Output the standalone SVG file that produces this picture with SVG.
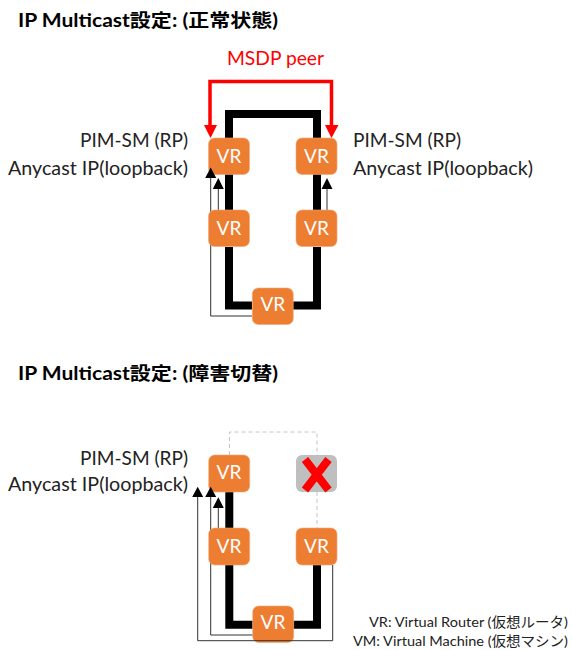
<svg xmlns="http://www.w3.org/2000/svg" width="572" height="650" viewBox="0 0 572 650">
<style>
text{font-family:"Lato","Noto Sans CJK JP",sans-serif;fill:#1a1a1a}
.h{font-size:18px;font-weight:700;fill:#000}
.l{font-size:19px;fill:#222}
.s{font-size:14px;fill:#222}
.vr{fill:#ed7d31;stroke:#f4a878;stroke-width:.6}
.vt{font-size:19px;fill:#fff;text-anchor:middle}
.ring{fill:none;stroke:#000;stroke-width:8}
.thin{fill:none;stroke:#333;stroke-width:1}
.red{fill:none;stroke:#f00;stroke-width:3.5}
.dash{fill:none;stroke:#c4c4c4;stroke-width:1;stroke-dasharray:4 3}
</style>
<text class="h" x="18" y="27" textLength="260" lengthAdjust="spacingAndGlyphs">IP Multicast設定: (正常状態)</text>
<text class="h" x="18" y="380" textLength="260" lengthAdjust="spacingAndGlyphs">IP Multicast設定: (障害切替)</text>
<text x="227" y="65" font-size="19" style="fill:#f00" textLength="97" lengthAdjust="spacingAndGlyphs">MSDP peer</text>
<g id="labels">
<text class="l" x="80" y="147" textLength="108" lengthAdjust="spacingAndGlyphs">PIM-SM (RP)</text>
<text class="l" x="8" y="175" textLength="180" lengthAdjust="spacingAndGlyphs">Anycast IP(loopback)</text>
<text class="l" x="353" y="147" textLength="108" lengthAdjust="spacingAndGlyphs">PIM-SM (RP)</text>
<text class="l" x="353" y="175" textLength="180" lengthAdjust="spacingAndGlyphs">Anycast IP(loopback)</text>
<text class="l" x="80" y="465" textLength="108" lengthAdjust="spacingAndGlyphs">PIM-SM (RP)</text>
<text class="l" x="8" y="491" textLength="180" lengthAdjust="spacingAndGlyphs">Anycast IP(loopback)</text>
<text class="s" x="369" y="627" textLength="199" lengthAdjust="spacingAndGlyphs">VR: Virtual Router (仮想ルータ)</text>
<text class="s" x="353" y="646" textLength="215" lengthAdjust="spacingAndGlyphs">VM: Virtual Machine (仮想マシン)</text>
</g>
<g id="connectors">
<path class="ring" d="M229 138V114H317V138M229 174V210M317 174V210M229 247V305.500H252M293 305.500H317V247"/>
<path class="ring" d="M229.300 492V528M229.300 565V624.700H252.700M293.300 624.700H317V565"/>
<path class="red" d="M210 126V81.500H331.500V126"/>
<path d="M204 125H217L210.500 138ZM325 125H338.500L331.500 138Z" fill="#f00"/>
<path class="dash" d="M229.500 455V432H317V455M317 492V528"/>
<path class="thin" d="M218.300 210V185M210.700 175V316H252M327 210V185"/>
<path class="thin" d="M218.300 528V505M210.700 495V635H252.700"/>
</g>
<g id="vr1"><rect class="vr" x="208.500" y="138" width="41" height="36.500" rx="6"/><text class="vt" x="229" y="163">VR</text></g>
<g id="vr2"><rect class="vr" x="296" y="138" width="41" height="36.500" rx="6"/><text class="vt" x="316.500" y="163">VR</text></g>
<g id="vr3"><rect class="vr" x="208.500" y="210" width="41" height="36.500" rx="6"/><text class="vt" x="229" y="235">VR</text></g>
<g id="vr4"><rect class="vr" x="296" y="210" width="41" height="36.500" rx="6"/><text class="vt" x="316.500" y="235">VR</text></g>
<g id="vr5"><rect class="vr" x="252.300" y="288" width="41" height="36.500" rx="6"/><text class="vt" x="272.800" y="311">VR</text></g>
<g id="vr6"><rect class="vr" x="208.700" y="455" width="41" height="37" rx="6"/><text class="vt" x="229" y="479">VR</text></g>
<g id="failed"><rect x="296" y="455" width="41" height="37" rx="6" fill="#bfbfbf"/><path d="M305 459.500L328.500 490M328.500 459.500L305 490" fill="none" stroke="#f00" stroke-width="8"/></g>
<g id="vr7"><rect class="vr" x="208.700" y="528" width="41" height="37" rx="6"/><text class="vt" x="229" y="553">VR</text></g>
<g id="vr8"><rect class="vr" x="296" y="528" width="41" height="37" rx="6"/><text class="vt" x="316.500" y="553">VR</text></g>
<g id="vr9"><rect class="vr" x="252.700" y="606" width="41" height="36.500" rx="6"/><text class="vt" x="273" y="629">VR</text></g>
<g id="overlay-connectors">
<path class="thin" d="M197.700 495V640.700H332.700V565"/>
<path fill="#000" d="M212.800 189H223.800L218.300 178ZM205.200 178H216.200L210.700 167.500ZM321.500 189H332.500L327 178ZM212.800 508H223.800L218.300 497.300ZM205.200 497H216.200L210.700 486.700ZM192.200 497H203.200L197.700 486.700Z"/>
</g>
</svg>
